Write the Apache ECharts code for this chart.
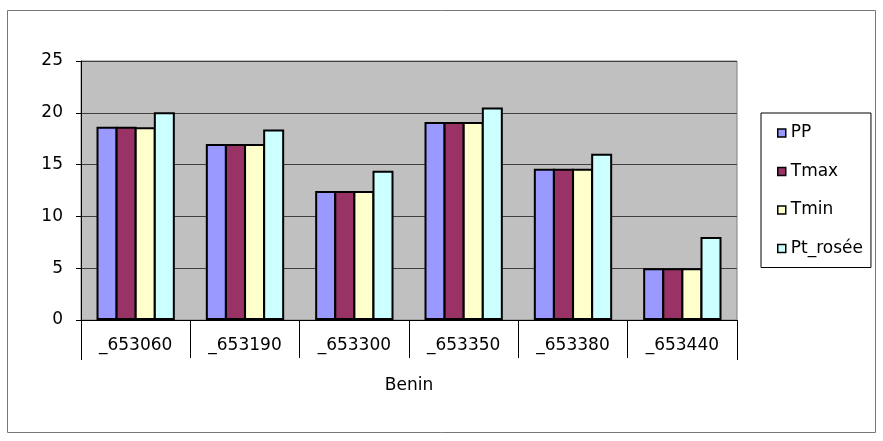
<!DOCTYPE html>
<html>
<head>
<meta charset="utf-8">
<script src="https://cdn.jsdelivr.net/npm/echarts@6/dist/echarts.min.js"></script>
<style>
html,body{margin:0;padding:0;background:#fff;}
#chart{width:883px;height:441px;}
</style>
</head>
<body>
<div id="chart"></div>
<script>
const categories = ['_653060', '_653190', '_653300', '_653350', '_653380', '_653440'];
const groupLabel = ['Benin'];
const seriesNames = ['PP', 'Tmax', 'Tmin', 'Pt_rosée'];
const PP = [18.65, 17.0, 12.45, 19.1, 14.6, 5.0];
const Tmax = [18.65, 17.0, 12.45, 19.1, 14.6, 5.0];
const Tmin = [18.6, 17.0, 12.45, 19.1, 14.6, 5.0];
const PtRosee = [20.05, 18.4, 14.4, 20.5, 16.05, 8.0];
const yTicks = [0, 5, 10, 15, 20, 25];
const colors = ['#9999FF', '#993366', '#FFFFCC', '#CCFFFF'];

const FONT = 'DejaVu Sans';
const values = [PP, Tmax, Tmin, PtRosee];

const chart = echarts.init(document.getElementById('chart'), null, {renderer: 'canvas'});
chart.setOption({
  backgroundColor: '#ffffff',
  animation: false,
  textStyle: {fontFamily: FONT, color: '#000'},
  graphic: [{
    type: 'rect',
    shape: {x: 7.5, y: 10.5, width: 868, height: 422},
    style: {fill: null, stroke: '#777', lineWidth: 1},
    silent: true,
    z: -1
  }],
  grid: {
    left: 81, top: 61, right: 146, bottom: 121,
    show: true, backgroundColor: '#C0C0C0', borderColor: '#808080', borderWidth: 1
  },
  legend: {
    orient: 'vertical',
    left: 761, top: 113,
    padding: [11, 8, 10, 16],
    itemGap: 20.5,
    itemWidth: 8, itemHeight: 8,
    itemTextGap: 3,
    icon: 'rect',
    borderColor: '#000', borderWidth: 1,
    backgroundColor: '#fff',
    textStyle: {fontFamily: FONT, fontSize: 17, lineHeight: 18, color: '#000'},
    itemStyle: {borderColor: '#000', borderWidth: 1.5},
    data: seriesNames
  },
  xAxis: [{
    type: 'category',
    data: categories,
    gridIndex: 0,
    position: 'bottom',
    boundaryGap: true,
    axisLine: {show: true, onZero: false, lineStyle: {color: '#000', width: 1}},
    axisTick: {show: true, inside: false, length: 38, interval: 0, lineStyle: {color: '#000', width: 1}},
    axisLabel: {interval: 0, margin: 17, fontFamily: FONT, fontSize: 17, color: '#000'},
    splitLine: {show: false}
  }, {
    type: 'category',
    data: groupLabel,
    gridIndex: 0,
    position: 'bottom',
    offset: 38,
    boundaryGap: true,
    axisLine: {show: false},
    axisTick: {show: true, length: 40, interval: 0, lineStyle: {color: '#000', width: 1}},
    axisLabel: {interval: 0, margin: 19, fontFamily: FONT, fontSize: 17, color: '#000'},
    splitLine: {show: false}
  }],
  yAxis: {
    type: 'value',
    min: yTicks[0], max: yTicks[yTicks.length - 1], interval: 5,
    axisLine: {show: true, lineStyle: {color: '#000', width: 1}},
    axisTick: {show: true, length: 5, lineStyle: {color: '#000'}},
    axisLabel: {margin: 18, fontFamily: FONT, fontSize: 17, color: '#000'},
    splitLine: {show: true, lineStyle: {color: '#404040', width: 1}}
  },
  series: seriesNames.map((name, i) => ({
    name: name,
    type: 'bar',
    xAxisIndex: 0,
    data: values[i],
    barWidth: 21,
    barGap: '-9%',
    itemStyle: {color: colors[i], borderColor: '#000', borderWidth: 2}
  }))
});
</script>
</body>
</html>
